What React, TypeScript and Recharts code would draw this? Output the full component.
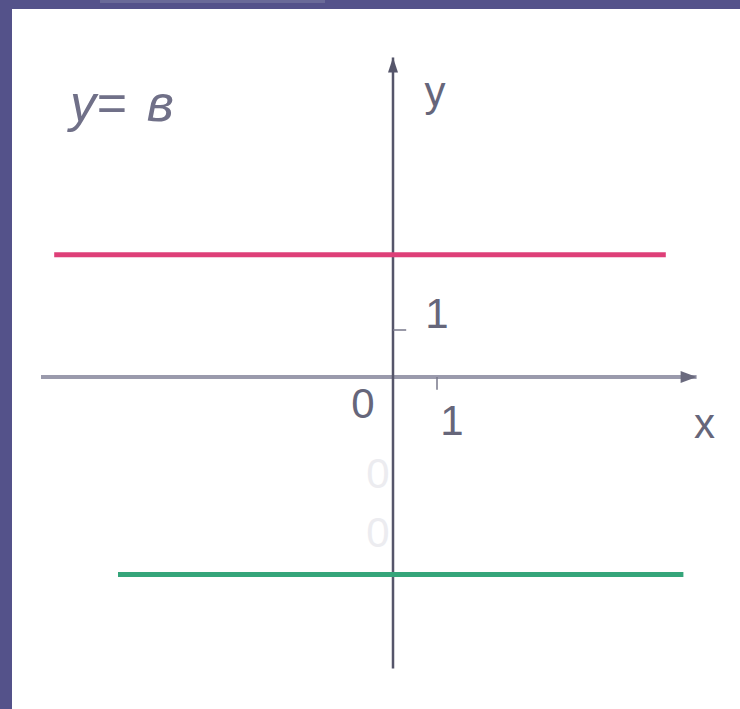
import React from "react";
import {
  ComposedChart,
  Line,
  ReferenceDot,
  ReferenceLine,
  XAxis,
  YAxis,
} from "recharts";

// y = b : two horizontal lines, one above and one below the x axis
const upperLine = [
  { x: -7.7, y: 2.6 },
  { x: 6.2, y: 2.6 },
];
const lowerLine = [
  { x: -6.25, y: -4.2 },
  { x: 6.6, y: -4.2 },
];

// coordinate axes (last point is where the arrow goes)
const xAxisLine = [
  { x: -8, y: 0 },
  { x: 6.9, y: 0 },
];
const yAxisLine = [
  { x: 0, y: -6.2 },
  { x: 0, y: 6.8 },
];

const xTicks = [1];
const yTicks = [1];
const originLabel = "0";
const axisNames = ["x", "y"];
const ghostZeros = [-2.05, -3.3];
const title = "y= в";

const labelStyle = {
  fontFamily: "'Liberation Sans', Arial, sans-serif",
  fontSize: 42,
  fill: "#66667a",
};

const arrowDot = (dir: "right" | "up", color: string) => (props: any) => {
  const { cx, cy, index } = props;
  if (index !== 1) return <g key={`a-${dir}-${index}`} />;
  const pts =
    dir === "right"
      ? `${cx},${cy} ${cx - 16},${cy - 6} ${cx - 16},${cy + 6}`
      : `${cx},${cy} ${cx - 5},${cy + 15} ${cx + 5},${cy + 15}`;
  return <polygon key={`a-${dir}`} points={pts} fill={color} />;
};

const textAt = (text: string, dx: number, dy: number, fill?: string) => (p: any) =>
  (
    <text
      x={p.cx + dx}
      y={p.cy + dy}
      textAnchor="middle"
      dominantBaseline="central"
      style={{ ...labelStyle, fill: fill || labelStyle.fill }}
    >
      {text}
    </text>
  );

export default function App() {
  return (
    <div
      style={{
        position: "absolute",
        left: 0,
        top: 0,
        width: 740,
        height: 709,
        background: "#ffffff",
        overflow: "hidden",
      }}
    >
      <ComposedChart
        width={740}
        height={709}
        margin={{ top: 48, right: 39, bottom: 3, left: 41 }}
      >
        <XAxis type="number" dataKey="x" domain={[-8, 7]} hide />
        <YAxis type="number" dataKey="y" domain={[-7, 7]} hide />

        <Line
          data={xAxisLine}
          dataKey="y"
          stroke="#9a9aac"
          strokeWidth={4}
          dot={arrowDot("right", "#6a6a7e")}
          activeDot={false}
          isAnimationActive={false}
        />
        <Line
          data={yAxisLine}
          dataKey="y"
          stroke="#55556a"
          strokeWidth={2.5}
          dot={arrowDot("up", "#55556a")}
          activeDot={false}
          isAnimationActive={false}
        />
        <Line
          data={upperLine}
          dataKey="y"
          stroke="#de3f78"
          strokeWidth={5}
          dot={false}
          activeDot={false}
          isAnimationActive={false}
        />
        <Line
          data={lowerLine}
          dataKey="y"
          stroke="#35a57a"
          strokeWidth={5}
          dot={false}
          activeDot={false}
          isAnimationActive={false}
        />

        {xTicks.map((t) => (
          <ReferenceLine
            key={`xt${t}`}
            segment={[
              { x: t, y: 0 },
              { x: t, y: -0.27 },
            ]}
            stroke="#77778a"
            strokeWidth={1.5}
          />
        ))}
        {yTicks.map((t) => (
          <ReferenceLine
            key={`yt${t}`}
            segment={[
              { x: 0, y: t },
              { x: 0.3, y: t },
            ]}
            stroke="#77778a"
            strokeWidth={1.5}
          />
        ))}

        {xTicks.map((t) => (
          <ReferenceDot
            key={`xl${t}`}
            x={t}
            y={0}
            r={0}
            shape={textAt(String(t), 15, 43)}
          />
        ))}
        {yTicks.map((t) => (
          <ReferenceDot
            key={`yl${t}`}
            x={0}
            y={t}
            r={0}
            shape={textAt(String(t), 44, -17)}
          />
        ))}
        <ReferenceDot x={0} y={0} r={0} shape={textAt(originLabel, -30, 26)} />
        <ReferenceDot
          x={xAxisLine[1].x}
          y={0}
          r={0}
          shape={textAt(axisNames[0], 8, 46)}
        />
        <ReferenceDot
          x={0}
          y={yAxisLine[1].y}
          r={0}
          shape={textAt(axisNames[1], 42, 34)}
        />
        {ghostZeros.map((v) => (
          <ReferenceDot
            key={`g${v}`}
            x={-0.34}
            y={v}
            r={0}
            shape={textAt(originLabel, 0, 0, "#ececf0")}
          />
        ))}
      </ComposedChart>

      <div
        style={{
          position: "absolute",
          left: 70,
          top: 73,
          fontFamily: "'Liberation Sans', Arial, sans-serif",
          fontStyle: "italic",
          fontSize: 52,
          color: "#707088",
          whiteSpace: "pre",
          lineHeight: "60px",
          wordSpacing: 6,
        }}
      >
        {title}
      </div>

      <div
        style={{
          position: "absolute",
          left: 0,
          top: 0,
          width: 740,
          height: 9,
          background: "#54528a",
        }}
      />
      <div
        style={{
          position: "absolute",
          left: 100,
          top: 0,
          width: 225,
          height: 3,
          background: "#6a6a98",
        }}
      />
      <div
        style={{
          position: "absolute",
          left: 0,
          top: 0,
          width: 12,
          height: 709,
          background: "#54528a",
        }}
      />
    </div>
  );
}
